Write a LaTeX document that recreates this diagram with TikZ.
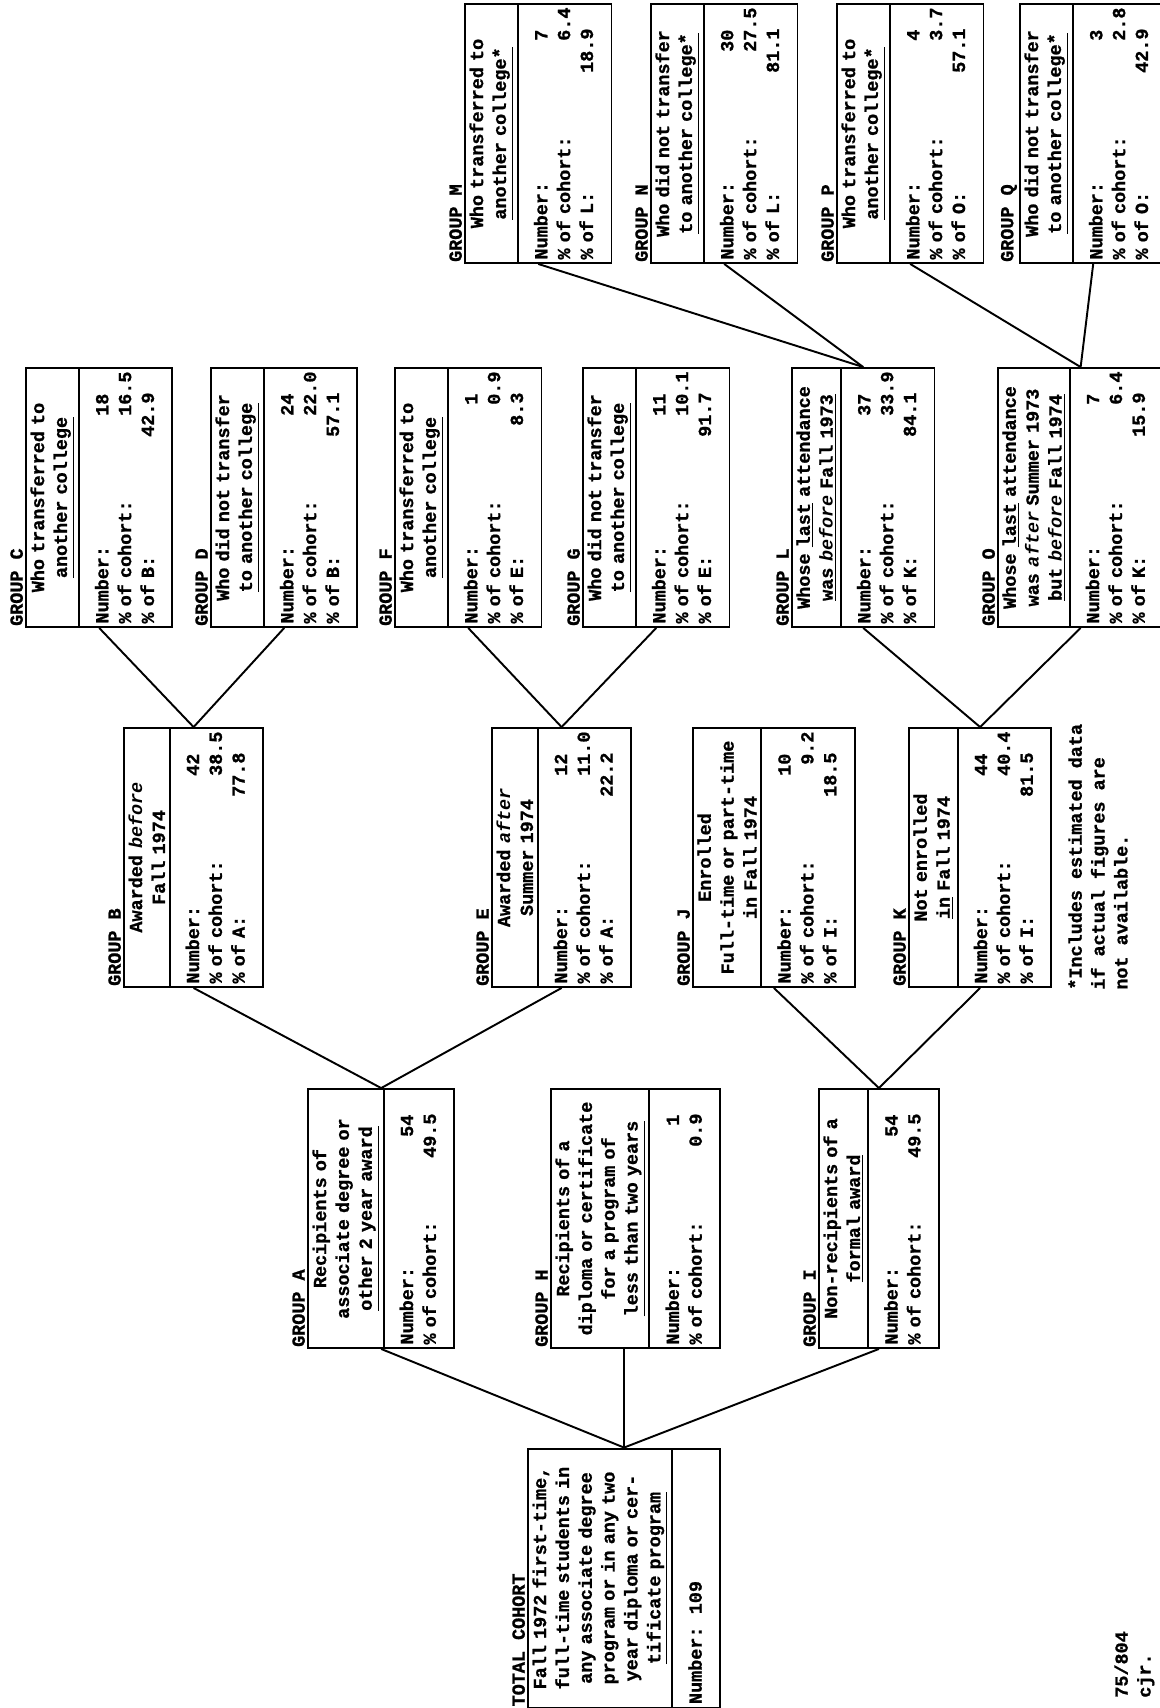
\documentclass[tikz,border=0pt]{standalone}
\usepackage{fontspec}
\newfontfamily\tw{Liberation Mono}[WordSpace={1,0,0}, BoldFeatures={FakeBold=1}]
\usetikzlibrary{shapes.multipart}

% number lines of a group box
\newcommand{\nfirst}[1]{\rule{0pt}{0.5cm}Number:\hfill#1\phantom{.0}\hspace*{0.42cm}}
\newcommand{\nrow}[2]{#1\hfill#2\hspace*{0.42cm}}
\newcommand{\nlast}[2]{#1\hfill#2\hspace*{0.42cm}\rule[-0.28cm]{0pt}{0.28cm}}

\begin{document}
\begin{tikzpicture}[x=0.02cm, y=-0.02cm,
  font=\tw\bfseries\fontsize{10.5}{13}\selectfont,
  box/.style={rectangle split, rectangle split parts=2, draw, line width=1.1pt,
              rotate=90, anchor=north, text width=5.04cm, align=center,
              inner xsep=0.07cm, inner ysep=2pt},
  lab/.style={rotate=90, anchor=south west, inner sep=1pt},
  note/.style={rotate=90, anchor=north west, align=left, inner sep=0pt},
  ln/.style={line width=1.1pt},
]
\path[use as bounding box, fill=white] (0,0) rectangle (1160,1708);

% total cohort
\node[box] (TC) at (527,1578) {Fall 1972 first-time,\\full-time students in\\any associate degree\\program or in any two\\year diploma or cer-\\\underline{tificate program}
  \nodepart{two}\rule{0pt}{0.5cm}Number:\ \ 109\hfill\mbox{}\rule[-0.28cm]{0pt}{0.28cm}};
\node[lab] (labTC) at (TC.north west) {TOTAL COHORT};

% first split: A, H, I
\node[box] (A) at (307,1218.5) {Recipients of\\associate degree or\\\underline{other 2 year award}
  \nodepart{two}\nfirst{54}\\\nlast{\% of cohort:}{49.5}};
\node[box] (H) at (550,1218.5) {Recipients of a\\diploma or certificate\\for a program of\\\underline{less than two years}
  \nodepart{two}\nfirst{1}\\\nlast{\% of cohort:}{0.9}};
\node[box] (I) at (818,1218.5) {Non-recipients of a\\\underline{formal award}
  \nodepart{two}\nfirst{54}\\\nlast{\% of cohort:}{49.5}};
\node[lab] (labA) at (A.north west) {GROUP A};
\node[lab] (labH) at (H.north west) {GROUP H};
\node[lab] (labI) at (I.north west) {GROUP I};
\draw[ln] (TC.east) -- (A.west);
\draw[ln] (TC.east) -- (TC.east |- H.west);
\draw[ln] (TC.east) -- (I.west);

% second split: B, E, J, K
\node[box] (B) at (123,857.5) {Awarded \textit{before}\\Fall 1974
  \nodepart{two}\nfirst{42}\\\nrow{\% of cohort:}{38.5}\\\nlast{\% of A:}{77.8}};
\node[box] (E) at (491,857.5) {Awarded \textit{after}\\Summer 1974
  \nodepart{two}\nfirst{12}\\\nrow{\% of cohort:}{11.0}\\\nlast{\% of A:}{22.2}};
\node[box] (J) at (692,857.5) {Enrolled\\Full-time or part-time\\in Fall 1974
  \nodepart{two}\nfirst{10}\\\nrow{\% of cohort:}{9.2}\\\nlast{\% of I:}{18.5}};
\node[box] (K) at (908,857.5) {Not enrolled\\\underline{in} Fall 1974
  \nodepart{two}\nfirst{44}\\\nrow{\% of cohort:}{40.4}\\\nlast{\% of I:}{81.5}};
\node[lab] (labB) at (B.north west) {GROUP B};
\node[lab] (labE) at (E.north west) {GROUP E};
\node[lab] (labJ) at (J.north west) {GROUP J};
\node[lab] (labK) at (K.north west) {GROUP K};
\draw[ln] (A.east) -- (B.west);
\draw[ln] (A.east) -- (E.west);
\draw[ln] (I.east) -- (J.west);
\draw[ln] (I.east) -- (K.west);

% third split: C, D, F, G, L, O
\node[box] (C) at (25,497.5) {Who transferred to\\\underline{another college}
  \nodepart{two}\nfirst{18}\\\nrow{\% of cohort:}{16.5}\\\nlast{\% of B:}{42.9}};
\node[box] (D) at (210,497.5) {Who did not transfer\\\underline{to another college}
  \nodepart{two}\nfirst{24}\\\nrow{\% of cohort:}{22.0}\\\nlast{\% of B:}{57.1}};
\node[box] (F) at (394,497.5) {Who transferred to\\\underline{another college}
  \nodepart{two}\nfirst{1}\\\nrow{\% of cohort:}{0.9}\\\nlast{\% of E:}{8.3}};
\node[box] (G) at (582,497.5) {Who did not transfer\\\underline{to another college}
  \nodepart{two}\nfirst{11}\\\nrow{\% of cohort:}{10.1}\\\nlast{\% of E:}{91.7}};
\node[box] (L) at (791,497.5) {Whose \underline{last} attendance\\\underline{was \textit{before} Fall 1973}
  \nodepart{two}\nfirst{37}\\\nrow{\% of cohort:}{33.9}\\\nlast{\% of K:}{84.1}};
\node[box] (O) at (997,497.5) {Whose \underline{last} attendance\\was \textit{after} Summer 1973\\\underline{but \textit{before} Fall 1974}
  \nodepart{two}\nfirst{7}\\\nrow{\% of cohort:}{6.4}\\\nlast{\% of K:}{15.9}};
\node[lab] (labC) at (C.north west) {GROUP C};
\node[lab] (labD) at (D.north west) {GROUP D};
\node[lab] (labF) at (F.north west) {GROUP F};
\node[lab] (labG) at (G.north west) {GROUP G};
\node[lab] (labL) at (L.north west) {GROUP L};
\node[lab] (labO) at (O.north west) {GROUP O};
\draw[ln] (B.east) -- (C.west);
\draw[ln] (B.east) -- (D.west);
\draw[ln] (E.east) -- (F.west);
\draw[ln] (E.east) -- (G.west);
\draw[ln] (K.east) -- (L.west);
\draw[ln] (K.east) -- (O.west);

% last split: M, N, P, Q
\node[box] (M) at (464,133.5) {Who transferred to\\\underline{another college*}
  \nodepart{two}\nfirst{7}\\\nrow{\% of cohort:}{6.4}\\\nlast{\% of L:}{18.9}};
\node[box] (N) at (650,133.5) {Who did not transfer\\\underline{to another college*}
  \nodepart{two}\nfirst{30}\\\nrow{\% of cohort:}{27.5}\\\nlast{\% of L:}{81.1}};
\node[box] (P) at (836,133.5) {Who transferred to\\\underline{another college*}
  \nodepart{two}\nfirst{4}\\\nrow{\% of cohort:}{3.7}\\\nlast{\% of O:}{57.1}};
\node[box] (Q) at (1019,133.5) {Who did not transfer\\\underline{to another college*}
  \nodepart{two}\nfirst{3}\\\nrow{\% of cohort:}{2.8}\\\nlast{\% of O:}{42.9}};
\node[lab] (labM) at (M.north west) {GROUP M};
\node[lab] (labN) at (N.north west) {GROUP N};
\node[lab] (labP) at (P.north west) {GROUP P};
\node[lab] (labQ) at (Q.north west) {GROUP Q};
\draw[ln] (L.east) -- (M.west);
\draw[ln] (L.east) -- (N.west);
\draw[ln] (O.east) -- (P.west);
\draw[ln] (O.east) -- (Q.west);

% footnote and file mark
\node[note] (fn) at (1068,990) {*Includes estimated data\\if actual figures are\\not available.};
\node[note] (mark) at (1114,1698) {75/804\\cjr.};
\end{tikzpicture}
\end{document}
